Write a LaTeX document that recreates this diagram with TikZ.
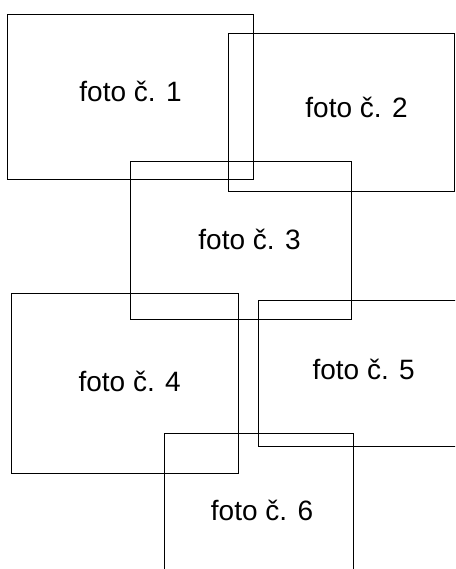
\documentclass[tikz,border=0pt]{standalone}
\usepackage{fontspec}
\setmainfont{Liberation Sans}
\begin{document}
\begin{tikzpicture}[x=1pt,y=-1pt,
  photo/.style={draw=black,line width=0.9pt},
  lbl/.style={anchor=base,inner sep=0pt,font=\fontsize{28}{34}\selectfont}]
\useasboundingbox (0,0) rectangle (455,569);
\clip (0,0) rectangle (455,569);
\fill[white] (0,0) rectangle (455,569);
\draw[photo] (7.5,14) rectangle (253,179);
\draw[photo] (228,33.5) rectangle (454,191.5);
\draw[photo] (130,161.5) rectangle (351,319.5);
\draw[photo] (11,293) rectangle (238,473);
\draw[photo] (258.7,300.7) rectangle (460,446);
\draw[photo] (164,433) rectangle (353,580);
\node[lbl] (t1) at (130.5,101.7) {foto č. 1};
\node[lbl] (t2) at (356.5,117.3) {foto č. 2};
\node[lbl] (t3) at (249.5,249) {foto č. 3};
\node[lbl] (t4) at (129.7,391) {foto č. 4};
\node[lbl] (t5) at (363.7,379) {foto č. 5};
\node[lbl] (t6) at (262,520) {foto č. 6};
\end{tikzpicture}
\end{document}
